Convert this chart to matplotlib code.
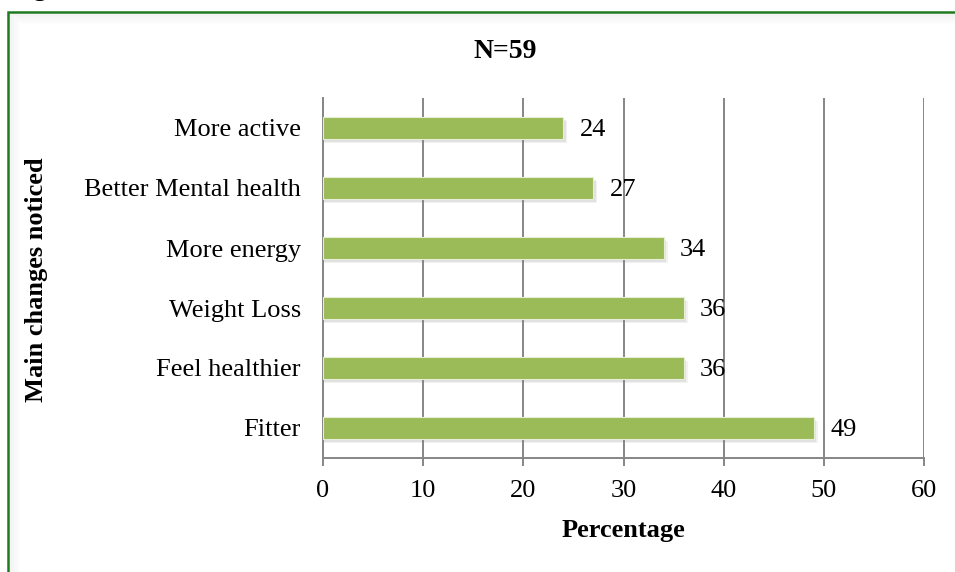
import matplotlib
matplotlib.use('Agg')
import matplotlib.pyplot as plt
from matplotlib.patches import Rectangle

categories = ["Fitter", "Feel healthier", "Weight Loss", "More energy",
              "Better Mental health", "More active"]
values = [49, 36, 36, 34, 27, 24]
xticks = [0, 10, 20, 30, 40, 50, 60]

plt.rcParams['font.family'] = ['Liberation Serif', 'DejaVu Serif']

fig = plt.figure(figsize=(9.55, 5.72), dpi=100)

# soft inner shadow then the green frame round the chart
for i in range(10):
    off = (i + 1.5)
    fig.patches.append(Rectangle(((8 + off) / 955, -0.05), 1.1, (560 - off) / 572 + 0.05,
                                 transform=fig.transFigure, fill=False,
                                 edgecolor='#bbbbbb', alpha=0.12 * (1 - i / 10),
                                 linewidth=1.0))
fig.patches.append(Rectangle((8 / 955, -0.05), 1.1, 560 / 572 + 0.05,
                             transform=fig.transFigure, fill=False,
                             edgecolor='#1f7a1f', linewidth=1.8))
# caption above the frame, mostly cut off by the top edge
fig.text(10 / 955, 1.018, "Figure 5", fontsize=19, fontweight='bold',
         va='center', ha='left')

ax = fig.add_axes([323 / 955, 114 / 572, 601 / 955, 360 / 572])
ypos = list(range(len(categories)))

# soft shadow under the bars
for dx, dy, a in [(0.4, -0.07, 0.10), (0.22, -0.045, 0.15)]:
    ax.barh([y + dy for y in ypos], [v + dx for v in values], height=0.37,
            color='#808080', alpha=a, linewidth=0, zorder=2)
ax.barh(ypos, values, height=0.37, color='#9bbb59', edgecolor='#e6efd6',
        linewidth=0.8, zorder=3)

for y, v in zip(ypos, values):
    ax.text(v + 1.65, y, str(v), va='center_baseline', ha='left', fontsize=19,
            zorder=4)

ax.set_xlim(0, 60)
ax.set_ylim(-0.5, len(categories) - 0.5)
ax.set_xticks(xticks)
ax.set_xticklabels([str(t) for t in xticks], fontsize=19)
ax.set_yticks(ypos)
ax.set_yticklabels(categories, fontsize=19, va='center_baseline')
ax.tick_params(axis='x', length=6, width=1.4, color='#868686', pad=10)
ax.tick_params(axis='y', length=0, pad=16)
ax.grid(axis='x', color='#868686', linewidth=1.4, zorder=1)
ax.set_axisbelow(True)
for s in ['top', 'right']:
    ax.spines[s].set_visible(False)
for s in ['left', 'bottom']:
    ax.spines[s].set_color('#868686')
    ax.spines[s].set_linewidth(1.4)

fig.text(623 / 955, 1 - 530 / 572, "Percentage", fontsize=19, fontweight='bold',
         ha='center', va='center')
fig.text(36 / 955, 1 - 280 / 572, "Main changes noticed", rotation=90,
         fontsize=19, fontweight='bold', ha='center', va='center')
fig.text(505 / 955, 1 - 52 / 572, "N=59", fontsize=20, fontweight='bold',
         ha='center', va='center')

fig.savefig('out.png', dpi=100)
